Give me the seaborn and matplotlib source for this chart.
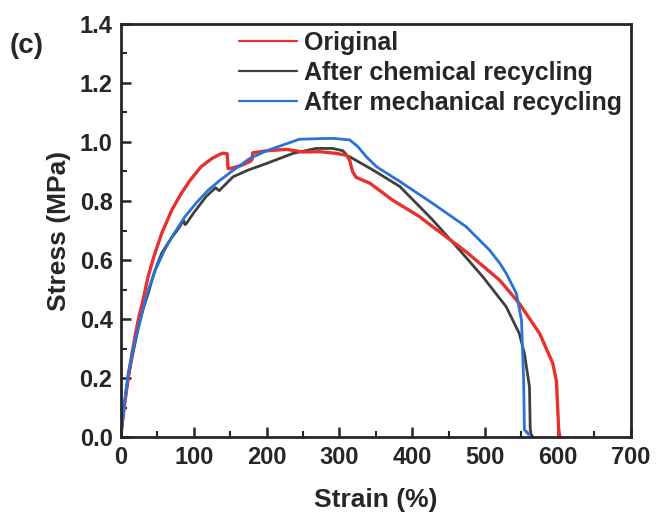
import pandas as pd
import matplotlib.pyplot as plt
import seaborn as sns
from matplotlib.ticker import MultipleLocator

# stress-strain curves
orig_strain = [0, 2, 5, 10, 15, 20, 25, 30, 37, 45, 56, 70, 83, 95, 110, 125, 135, 140, 146,
               147, 150, 165, 177, 180, 181, 200, 227, 250, 273, 296, 310, 314, 318, 323, 342,
               373, 410, 428, 474, 520, 547, 575, 593, 598, 601, 602, 603]
orig_stress = [0, 0.05, 0.11, 0.20, 0.28, 0.35, 0.41, 0.46, 0.54, 0.61, 0.69, 0.77, 0.826, 0.87,
               0.916, 0.944, 0.957, 0.962, 0.96, 0.91, 0.91, 0.92, 0.933, 0.94, 0.963, 0.97,
               0.975, 0.966, 0.967, 0.961, 0.955, 0.939, 0.90, 0.88, 0.86, 0.803, 0.747, 0.713,
               0.628, 0.532, 0.453, 0.351, 0.25, 0.19, 0.03, 0.01, 0.0]

chem_strain = [0, 2, 5, 10, 17, 24, 30, 37.5, 46, 56, 68, 80, 86, 88, 90, 100, 117, 130, 135,
               154, 175, 200, 236, 268, 291, 305, 312, 314, 346, 383, 428, 465, 497, 529, 547,
               554, 561, 562, 563, 566]
chem_stress = [0, 0.05, 0.11, 0.20, 0.29, 0.37, 0.43, 0.487, 0.56, 0.623, 0.67, 0.71, 0.735,
               0.72, 0.724, 0.76, 0.815, 0.845, 0.835, 0.882, 0.905, 0.927, 0.961, 0.978, 0.978,
               0.97, 0.95, 0.95, 0.905, 0.849, 0.736, 0.634, 0.543, 0.442, 0.351, 0.284, 0.17,
               0.03, 0.01, 0.0]

mech_strain = [0, 2, 5, 10, 17, 24, 30, 37.5, 48, 60, 73, 88, 104, 120, 136, 152, 177, 200, 223,
               245, 270, 291, 314, 325, 337, 351, 383, 428, 474, 506, 520, 529, 543, 550, 553,
               554, 554, 560, 560]
mech_stress = [0, 0.05, 0.12, 0.216, 0.30, 0.374, 0.43, 0.498, 0.57, 0.634, 0.69, 0.747, 0.795,
               0.837, 0.87, 0.9, 0.944, 0.97, 0.99, 1.009, 1.011, 1.012, 1.007, 0.985, 0.95,
               0.916, 0.866, 0.792, 0.713, 0.634, 0.59, 0.555, 0.487, 0.397, 0.193, 0.03, 0.02,
               0.02, 0.0]

labels = ["Original", "After chemical recycling", "After mechanical recycling"]
colors = ["#e8312f", "#3f3f3f", "#2a72d4"]

sns.set_style("ticks")
plt.rcParams['font.family'] = ['Liberation Sans', 'DejaVu Sans']
plt.rcParams['font.weight'] = 'bold'

fig = plt.figure(figsize=(6.57, 5.18), dpi=100)
ax = fig.add_axes([0.184, 0.156, 0.776, 0.798])

df_orig = pd.DataFrame({"strain": orig_strain, "stress": orig_stress})
df_chem = pd.DataFrame({"strain": chem_strain, "stress": chem_stress})
df_mech = pd.DataFrame({"strain": mech_strain, "stress": mech_stress})

# draw order: chemical, original, mechanical
sns.lineplot(data=df_chem, x="strain", y="stress", sort=False, color=colors[1], lw=2.0, ax=ax,
             label=labels[1])
sns.lineplot(data=df_orig, x="strain", y="stress", sort=False, color=colors[0], lw=2.4, ax=ax,
             label=labels[0])
sns.lineplot(data=df_mech, x="strain", y="stress", sort=False, color=colors[2], lw=2.0, ax=ax,
             label=labels[2])

ax.set_xlim(0, 700)
ax.set_ylim(0, 1.4)
ax.xaxis.set_major_locator(MultipleLocator(100))
ax.xaxis.set_minor_locator(MultipleLocator(50))
ax.yaxis.set_major_locator(MultipleLocator(0.2))
ax.yaxis.set_minor_locator(MultipleLocator(0.1))
ax.yaxis.set_major_formatter(plt.FormatStrFormatter('%.1f'))
ax.tick_params(which='major', direction='in', length=7, width=1.8, labelsize=17, pad=6)
ax.tick_params(which='minor', direction='in', length=4, width=1.5)
for s in ax.spines.values():
    s.set_linewidth(2)

ax.set_xlabel("Strain (%)", fontsize=19, fontweight='bold', labelpad=14)
ax.set_ylabel("Stress (MPa)", fontsize=19, fontweight='bold', labelpad=6)

h, l = ax.get_legend_handles_labels()
order = [l.index(x) for x in labels]
leg = ax.legend([h[i] for i in order], [l[i] for i in order], frameon=False,
                loc='upper left', bbox_to_anchor=(0.213, 1.008), fontsize=18,
                handlelength=2.3, handletextpad=0.3, labelspacing=0.24, borderaxespad=0)
for line in leg.get_lines():
    line.set_linewidth(1.6)

fig.text(0.015, 0.911, "(c)", fontsize=20, fontweight='bold', va='center')

plt.savefig("out.png", dpi=100)
